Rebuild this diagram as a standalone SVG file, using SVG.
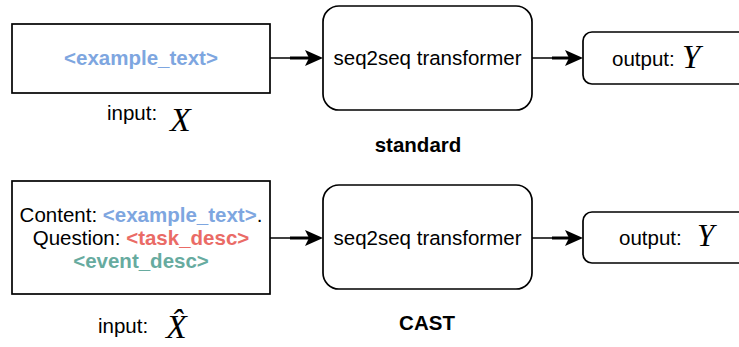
<svg xmlns="http://www.w3.org/2000/svg" width="739" height="347" viewBox="0 0 739 347">
<defs>
<style>
.box{fill:#fff;stroke:#000;stroke-width:1.7}
.t{font-family:"Liberation Sans",Arial,sans-serif;font-size:20.5px;fill:#000}
.b{font-weight:bold}
.m{font-family:"Liberation Serif","Times New Roman",serif;font-style:italic;fill:#000}
.blue{fill:#7EA6E0}
.red{fill:#EA6B66}
.green{fill:#67AB9F}
.conn{stroke:#000;stroke-width:1.7;fill:none}
.thick{stroke:#000;stroke-width:3}
</style>
</defs>
<g id="connectors">
<line class="conn" x1="270" y1="58" x2="312" y2="58"/>
<line class="thick" x1="290" y1="58" x2="312" y2="58"/>
<path d="M323,58 L305,50 L309,58 L305,66 Z"/>
<line class="conn" x1="532" y1="58" x2="572" y2="58"/>
<line class="thick" x1="552" y1="58" x2="572" y2="58"/>
<path d="M583,58 L565,50 L569,58 L565,66 Z"/>
<line class="conn" x1="270" y1="238" x2="312" y2="238"/>
<line class="thick" x1="290" y1="238" x2="312" y2="238"/>
<path d="M323,238 L305,230 L309,238 L305,246 Z"/>
<line class="conn" x1="532" y1="238" x2="572" y2="238"/>
<line class="thick" x1="552" y1="238" x2="572" y2="238"/>
<path d="M583,238 L565,230 L569,238 L565,246 Z"/>
</g>
<g id="input_std">
<rect class="box" x="12" y="24" width="258" height="69"/>
<text class="t b blue" x="141" y="65" text-anchor="middle">&lt;example_text&gt;</text>
</g>
<g id="input_std_label">
<text class="t" x="107" y="120">input:</text>
<text class="m" x="170" y="131" font-size="34">X</text>
</g>
<g id="seq_std">
<rect class="box" x="323" y="6" width="209" height="104" rx="16"/>
<text class="t" x="427.5" y="65" text-anchor="middle">seq2seq transformer</text>
</g>
<g id="output_std">
<rect class="box" x="583" y="32" width="170" height="52" rx="9"/>
<text class="t" x="612" y="66">output:</text>
<text class="m" x="682" y="68" font-size="33">Y</text>
</g>
<text class="t b" x="418" y="152" text-anchor="middle">standard</text>
<g id="input_cast">
<rect class="box" x="12" y="181" width="258" height="113"/>
<text class="t" x="141" y="222" text-anchor="middle">Content: <tspan class="b blue">&lt;example_text&gt;</tspan>.</text>
<text class="t" x="141" y="245" text-anchor="middle">Question: <tspan class="b red">&lt;task_desc&gt;</tspan></text>
<text class="t b green" x="141" y="268" text-anchor="middle">&lt;event_desc&gt;</text>
</g>
<g id="input_cast_label">
<text class="t" x="98" y="333">input:</text>
<text class="m" x="166" y="338" font-size="34">X&#x302;</text>
</g>
<g id="seq_cast">
<rect class="box" x="323" y="185" width="209" height="104" rx="16"/>
<text class="t" x="427.5" y="245" text-anchor="middle">seq2seq transformer</text>
</g>
<g id="output_cast">
<rect class="box" x="583" y="212" width="170" height="51" rx="9"/>
<text class="t" x="619" y="245">output:</text>
<text class="m" x="697" y="246" font-size="31">Y</text>
</g>
<text class="t b" x="427" y="330" text-anchor="middle">CAST</text>
</svg>
